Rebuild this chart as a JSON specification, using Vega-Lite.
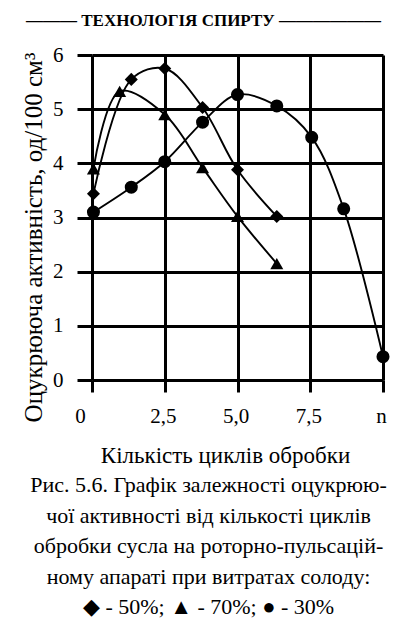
{
  "$schema": "https://vega.github.io/schema/vega-lite/v6.json",
  "width": 291,
  "height": 325,
  "autosize": "none",
  "padding": {"left": 92, "top": 55, "right": 13, "bottom": 239},
  "background": "white",
  "config": {
    "font": "Liberation Serif",
    "view": {"stroke": null},
    "axis": {"gridColor": "black", "gridWidth": 3, "gridOpacity": 1, "tickColor": "black", "tickWidth": 3, "tickOpacity": 1}
  },
  "title": {
    "text": [
      "Рис. 5.6. Графік залежності оцукрюю-",
      "чої активності від кількості циклів",
      "обробки сусла на роторно-пульсацій-",
      "ному апараті при витратах солоду:",
      "◆ - 50%; ▲ - 70%; ● - 30%"
    ],
    "orient": "bottom",
    "anchor": "middle",
    "frame": "group",
    "font": "Liberation Serif",
    "fontSize": 22,
    "fontWeight": "normal",
    "lineHeight": 30.5,
    "offset": 8,
    "dx": -29,
    "color": "black"
  },
  "data": {
    "values": [
      {"series": "50%", "x": 0.05, "y": 3.44},
      {"series": "50%", "x": 1.35, "y": 5.55},
      {"series": "50%", "x": 2.5, "y": 5.75},
      {"series": "50%", "x": 3.8, "y": 5.03},
      {"series": "50%", "x": 5.0, "y": 3.88},
      {"series": "50%", "x": 6.35, "y": 3.02},
      {"series": "70%", "x": 0.05, "y": 3.9},
      {"series": "70%", "x": 0.95, "y": 5.33},
      {"series": "70%", "x": 2.5, "y": 4.9},
      {"series": "70%", "x": 3.8, "y": 3.92},
      {"series": "70%", "x": 5.0, "y": 3.02},
      {"series": "70%", "x": 6.35, "y": 2.15},
      {"series": "30%", "x": 0.05, "y": 3.1},
      {"series": "30%", "x": 1.35, "y": 3.56},
      {"series": "30%", "x": 2.5, "y": 4.03},
      {"series": "30%", "x": 3.8, "y": 4.76},
      {"series": "30%", "x": 5.0, "y": 5.27},
      {"series": "30%", "x": 6.35, "y": 5.06},
      {"series": "30%", "x": 7.55, "y": 4.48},
      {"series": "30%", "x": 8.65, "y": 3.16},
      {"series": "30%", "x": 10.0, "y": 0.43}
    ]
  },
  "layer": [
    {
      "mark": {"type": "line", "interpolate": "catmull-rom", "color": "black", "strokeWidth": 1.9},
      "encoding": {
        "x": {
          "field": "x", "type": "quantitative",
          "scale": {"domain": [0, 10], "nice": false, "zero": false},
          "axis": {
            "orient": "bottom",
            "values": [0, 2.5, 5, 7.5, 10],
            "labelExpr": "datum.value == 0 ? '0' : datum.value == 10 ? 'n' : replace(format(datum.value, '.1f'), '.', ',')",
            "title": "Кількість циклів обробки",
            "grid": true, "gridColor": "black", "gridWidth": 3, "gridOpacity": 1,
            "domain": false,
            "ticks": true, "tickColor": "black", "tickWidth": 3, "tickSize": 12,
            "labelFont": "Liberation Serif", "labelFontSize": 21, "labelColor": "black",
            "labelPadding": 13, "labelFlush": false, "labelOverlap": false,
            "labelOffset": {"condition": {"test": "datum.value == 0", "value": -12}, "value": -2},
            "titleFont": "Liberation Serif", "titleFontSize": 23, "titleFontWeight": "normal", "titleColor": "black",
            "titlePadding": 18, "titleX": 133
          }
        },
        "y": {
          "field": "y", "type": "quantitative",
          "scale": {"domain": [0, 6], "nice": false},
          "axis": {
            "values": [0, 1, 2, 3, 4, 5, 6],
            "format": "d",
            "title": "Оцукрююча активність, од/100 см³",
            "grid": true, "gridColor": "black", "gridWidth": 3, "gridOpacity": 1,
            "domain": false,
            "ticks": true, "tickColor": "black", "tickWidth": 3, "tickSize": 15,
            "labelFont": "Liberation Serif", "labelFontSize": 21, "labelColor": "black",
            "labelPadding": 14, "labelFlush": false, "labelOverlap": false,
            "titleFont": "Liberation Serif", "titleFontSize": 25, "titleFontWeight": "normal", "titleColor": "black",
            "titlePadding": 6, "titleY": 182
          }
        },
        "detail": {"field": "series"}
      }
    },
    {
      "mark": {"type": "point", "filled": true, "color": "black", "opacity": 1, "size": 170},
      "encoding": {
        "x": {
          "field": "x", "type": "quantitative",
          "axis": {
            "orient": "top",
            "title": "———  ТЕХНОЛОГІЯ СПИРТУ  ——————",
            "labels": false, "ticks": false, "domain": false, "grid": false,
            "titleFont": "Liberation Serif", "titleFontSize": 17, "titleFontWeight": "bold", "titleColor": "black",
            "titlePadding": 26, "titleX": 111
          }
        },
        "y": {"field": "y", "type": "quantitative"},
        "shape": {
          "field": "series", "type": "nominal",
          "scale": {"domain": ["50%", "70%", "30%"], "range": ["diamond", "triangle-up", "circle"]},
          "legend": null
        }
      }
    }
  ],
  "resolve": {"axis": {"x": "independent"}}
}
